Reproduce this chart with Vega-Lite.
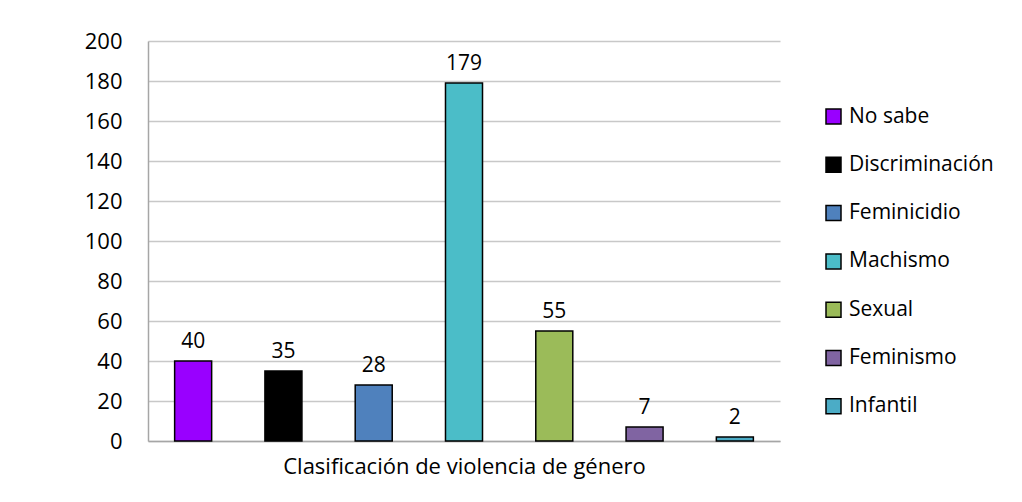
{
  "$schema": "https://vega.github.io/schema/vega-lite/v6.json",
  "width": 632,
  "height": 400,
  "autosize": {"type": "none"},
  "padding": {"left": 148, "top": 41, "right": 242, "bottom": 61},
  "background": "white",
  "config": {
    "font": "Open Sans",
    "view": {"stroke": null},
    "axis": {"labelFont": "Open Sans", "titleFont": "Open Sans"},
    "legend": {"labelFont": "Open Sans"}
  },
  "data": {
    "values": [
      {"categoria": "No sabe", "valor": 40},
      {"categoria": "Discriminación", "valor": 35},
      {"categoria": "Feminicidio", "valor": 28},
      {"categoria": "Machismo", "valor": 179},
      {"categoria": "Sexual", "valor": 55},
      {"categoria": "Feminismo", "valor": 7},
      {"categoria": "Infantil", "valor": 2}
    ]
  },
  "encoding": {
    "x": {
      "field": "categoria",
      "type": "nominal",
      "sort": null,
      "scale": {"paddingInner": 0.59, "paddingOuter": 0.295},
      "axis": {
        "title": "Clasificación de violencia de género",
        "labels": false,
        "ticks": false,
        "domainColor": "#A6A6A6",
        "domainWidth": 1.5,
        "titleFontSize": 22,
        "titleFontWeight": "normal",
        "titleColor": "#000000",
        "titlePadding": 15
      }
    },
    "y": {
      "field": "valor",
      "type": "quantitative",
      "scale": {"domain": [0, 200]},
      "axis": {
        "title": null,
        "values": [0, 20, 40, 60, 80, 100, 120, 140, 160, 180, 200],
        "ticks": false,
        "labelPadding": 26,
        "labelFontSize": 22,
        "labelColor": "#000000",
        "domainColor": "#A6A6A6",
        "domainWidth": 1.5,
        "gridColor": "#C8C8C8",
        "gridWidth": 1.5
      }
    }
  },
  "layer": [
    {
      "mark": {"type": "bar", "stroke": "#000000", "strokeWidth": 1.5},
      "encoding": {
        "color": {
          "field": "categoria",
          "type": "nominal",
          "sort": null,
          "scale": {
            "domain": ["No sabe", "Discriminación", "Feminicidio", "Machismo", "Sexual", "Feminismo", "Infantil"],
            "range": ["#9900FF", "#000000", "#4F81BD", "#4BBDC8", "#9BBB59", "#8064A2", "#4BACC6"]
          },
          "legend": {
            "title": null,
            "orient": "none",
            "legendX": 675,
            "legendY": 65,
            "symbolType": "square",
            "symbolSize": 225,
            "symbolStrokeColor": "#000000",
            "symbolStrokeWidth": 1.5,
            "symbolOpacity": 1,
            "labelFontSize": 21,
            "labelColor": "#000000",
            "labelOffset": 5,
            "rowPadding": 26.3,
            "labelLimit": 300
          }
        }
      }
    },
    {
      "mark": {"type": "text", "baseline": "bottom", "dy": -9, "fontSize": 21, "color": "#000000"},
      "encoding": {"text": {"field": "valor", "type": "quantitative"}}
    }
  ]
}
